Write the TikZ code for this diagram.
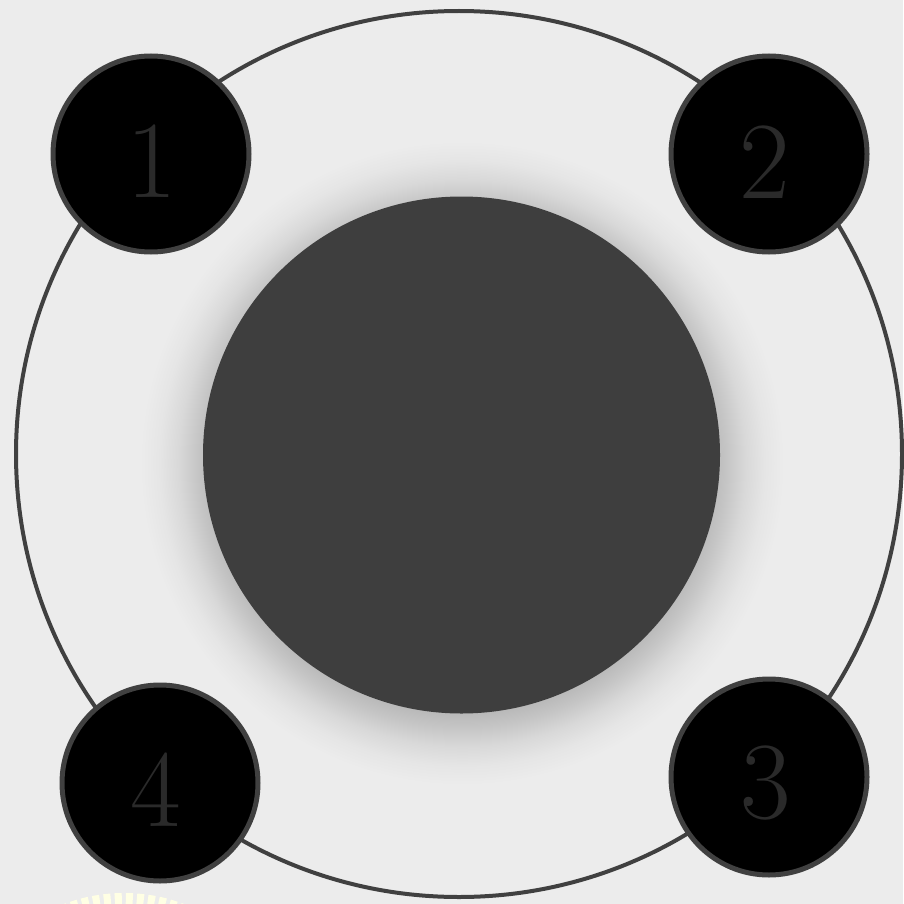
\documentclass[tikz,border=0pt]{standalone}
\usepackage{fontspec}
\setmainfont{Latin Modern Roman}
\definecolor{bgc}{HTML}{ECECEC}
\definecolor{strokec}{HTML}{404040}
\definecolor{corec}{HTML}{3E3E3E}
\definecolor{digitc}{HTML}{2A2A2A}
\definecolor{shadowc}{HTML}{B4B4B4}
\definecolor{yellowc}{HTML}{FFFFE4}
\pgfdeclareradialshading{coreshadow}{\pgfpoint{0bp}{0bp}}{%
  color(0bp)=(shadowc); color(19bp)=(shadowc); color(20.5bp)=(shadowc!70!bgc);
  color(22bp)=(shadowc!35!bgc); color(23.5bp)=(shadowc!12!bgc); color(25bp)=(bgc); color(50bp)=(bgc)}
\tikzset{
  satellite/.style={circle, fill=black, draw=strokec, line width=5pt,
    minimum size=196pt, inner sep=0pt},
  digit/.style={text=digitc, font=\fontsize{110}{110}\selectfont, inner sep=0pt}
}
\begin{document}
\begin{tikzpicture}[x=1pt,y=-1pt]
\useasboundingbox (0,0) rectangle (903,904);
\fill[bgc] (0,0) rectangle (903,904);
% yellow dashed arc at the bottom edge
\draw[yellowc, line width=12pt, dash pattern=on 7pt off 4pt] (124,1062) circle[radius=163];
% outer ring
\node[circle, draw=strokec, line width=4pt, minimum size=886pt, inner sep=0pt] (ring) at (459,454) {};
% shadow of the core
\shade[shading=coreshadow] (462,463) circle[radius=322];
% core
\node[circle, fill=corec, minimum size=517pt, inner sep=0pt] (core) at (461.5,455) {};
% satellites
\node[satellite] (s1) at (151,154) {};
\node[satellite] (s2) at (769,154) {};
\node[satellite] (s3) at (769,777) {};
\node[satellite] (s4) at (160,783) {};
\node[digit] (d1) at (152,161) {1};
\node[digit] (d2) at (765,162) {2};
\node[digit] (d3) at (766,783) {3};
\node[digit] (d4) at (156,790) {4};
\end{tikzpicture}
\end{document}
